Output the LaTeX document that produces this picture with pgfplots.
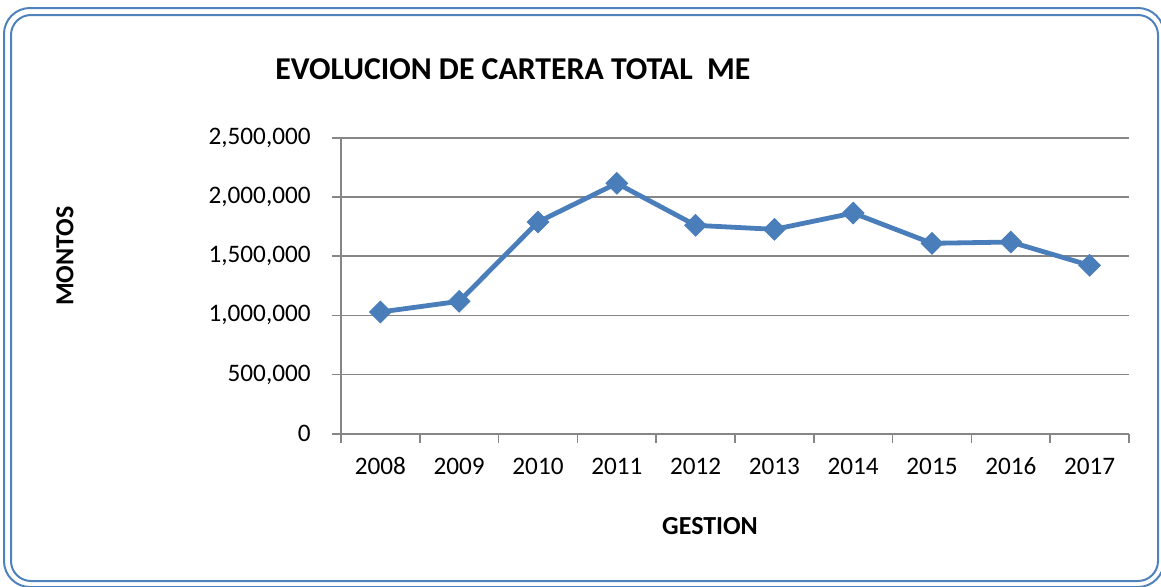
\documentclass[border=0pt]{standalone}
\usepackage{pgfplots}
\pgfplotsset{compat=1.18}
\usepackage{fontspec}
\setmainfont{Carlito}
\definecolor{linebl}{HTML}{4A7EBB}
\definecolor{bordbl}{HTML}{4F81BD}
\definecolor{axgray}{HTML}{868686}
\begin{document}
\begin{tikzpicture}
\path[use as bounding box] (0,0) rectangle (580.5pt,293pt);
\draw[bordbl, line width=1pt, rounded corners=13pt] (2pt,289pt) rectangle (582pt,-0.5pt);
\draw[bordbl, line width=1pt, rounded corners=10pt] (5.5pt,285.5pt) rectangle (579pt,2.5pt);
\node[anchor=base west, inner sep=0pt, font=\fontsize{15.9}{19}\selectfont\bfseries] at (137.5pt,253.35pt) {EVOLUCION DE CARTERA TOTAL\ \ ME};
\node[rotate=90, inner sep=0pt, font=\fontsize{13}{15}\selectfont\bfseries] at (32.5pt,165pt) {MONTOS};
\node[inner sep=0pt, font=\fontsize{13}{15}\selectfont\bfseries] at (355pt,29.75pt) {GESTION};
\begin{axis}[
  at={(170.5pt,76.15pt)}, anchor=south west,
  scale only axis, width=394pt, height=148pt,
  xmin=-0.5, xmax=9.5, ymin=0, ymax=2500000,
  axis x line=bottom, axis y line=left,
  axis line style={-, draw=axgray, line width=0.8pt},
  xtick={0,...,9},
  xticklabels={2008,2009,2010,2011,2012,2013,2014,2015,2016,2017},
  minor xtick={-0.5,0.5,...,9.5},
  major x tick style={draw=none},
  minor x tick style={draw=axgray, line width=0.8pt},
  minor tick length=4.5pt,
  ytick={0,500000,...,2500000},
  major y tick style={draw=axgray, line width=0.8pt},
  major tick length=4.5pt,
  tick align=outside,
  ymajorgrids,
  major grid style={draw=axgray, line width=0.8pt},
  scaled y ticks=false,
  /pgf/number format/fixed,
  /pgf/number format/1000 sep={,},
  /pgf/number format/assume math mode=true,
  ticklabel style={font=\fontsize{12.6}{14}\selectfont},
  yticklabel style={anchor=east, inner sep=0pt, xshift=-10.5pt},
  xticklabel style={anchor=north, inner sep=0pt, text height=9pt, yshift=-6.9pt},
  clip=false,
]
\addplot[color=linebl, line width=2.4pt, mark=square*, mark size=3.8pt, mark options={rotate=45, fill=linebl, draw=linebl, line width=0.5pt}]
  coordinates {(0,1028000) (1,1118000) (2,1788000) (3,2115000) (4,1760000) (5,1726000) (6,1864000) (7,1608000) (8,1619000) (9,1422000)};
\end{axis}
\end{tikzpicture}
\end{document}
